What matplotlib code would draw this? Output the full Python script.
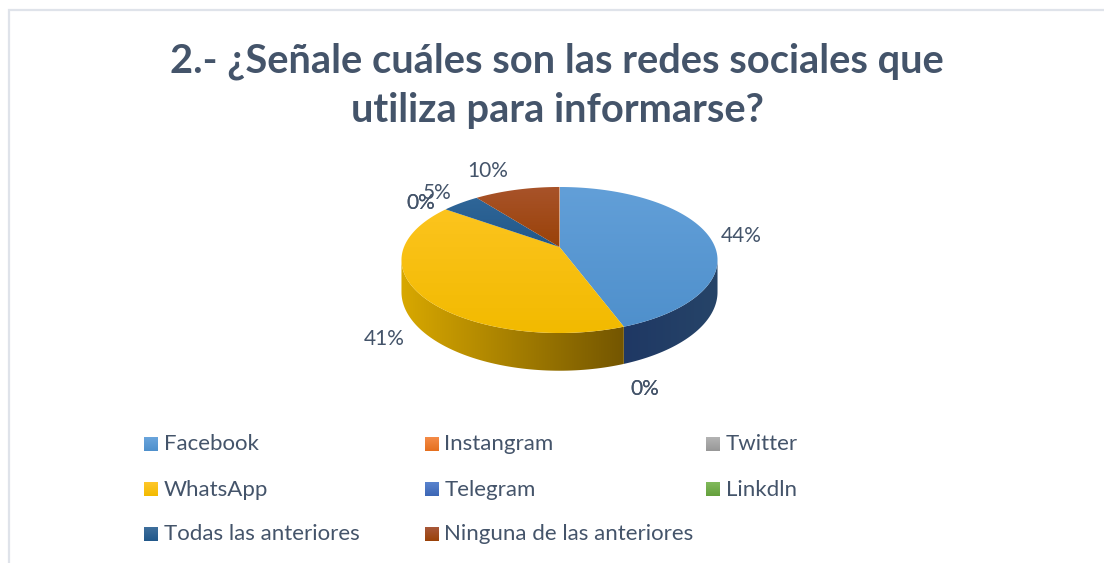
import numpy as np
import matplotlib
matplotlib.use('Agg')
import matplotlib.pyplot as plt
from matplotlib.colors import LinearSegmentedColormap
from matplotlib.patches import Polygon

# datos
title = '2.- ¿Señale cuáles son las redes sociales que\nutiliza para informarse?'
redes = ['Facebook', 'Instangram', 'Twitter', 'WhatsApp', 'Telegram', 'Linkdln',
         'Todas las anteriores', 'Ninguna de las anteriores']
porcentajes = [44.4, 0, 0, 40.6, 0, 0, 4.6, 10.4]

claros = ['#629FD8', '#F48C48', '#B4B4B4', '#FCC41E', '#5A84CE', '#82BA5C', '#2F6698', '#A8532A']
oscuros = ['#4F90CC', '#E56F1E', '#979797', '#F2BA00', '#3C66B5', '#64A03C', '#22588A', '#9A4208']
pared_izq = ['#1F3864', '#8A4516', '#5E5E5E', '#D8A800', '#27406E', '#406228', '#163556', '#5A2908']
pared_der = ['#264468', '#8A4516', '#5E5E5E', '#745600', '#27406E', '#406228', '#163556', '#5A2908']
leyenda_claros = ['#6AA5DC', '#F48C48', '#B4B4B4', '#FFC72A', '#5A84CE', '#82BA5C', '#3E6F9C', '#A8583A']

# posicion de cada etiqueta de porcentaje, en pixeles
pos_etiquetas = [(741, 236), (645, 389), (645, 389), (384, 339),
                 (421, 203), (421, 203), (437, 193), (488, 171)]

gris = '#44546A'
fig = plt.figure(figsize=(11.04, 5.63), dpi=100, facecolor='white')
ax = fig.add_axes([0, 0, 1, 1])
ax.set_axis_off()


def proyectar(theta, prof=0.0):
    # circulo visto en perspectiva, theta en grados desde arriba en sentido horario
    t = np.radians(theta)
    den = 1 + 0.178 * np.cos(t)
    x = 559.5 + 155.5 * np.sin(t) / den
    y = 247 - 70.7 * np.cos(t) / den + prof / den
    return x, y


def degradado(puntos, c1, c2, horizontal, z):
    # rellena un poligono con un degradado recortado a su forma
    puntos = np.array(puntos)
    l, r = puntos[:, 0].min(), puntos[:, 0].max()
    t, b = puntos[:, 1].min(), puntos[:, 1].max()
    cmap = LinearSegmentedColormap.from_list('g', [c1, c2])
    grad = np.linspace(0, 1, 128)
    grad = grad.reshape(1, -1) if horizontal else grad.reshape(-1, 1)
    im = ax.imshow(grad, extent=(l, r, b, t), cmap=cmap, aspect='auto', zorder=z,
                   interpolation='bilinear')
    im.set_clip_path(Polygon(puntos, closed=True, transform=ax.transData))


# paredes y cara superior
inicio = 0.0
for i in range(len(redes)):
    fin = inicio + porcentajes[i] * 3.6
    if porcentajes[i] > 0:
        ang = np.linspace(inicio, fin, 120)
        x, y = proyectar(ang)
        degradado(np.column_stack([np.r_[559.5, x], np.r_[247, y]]), claros[i], oscuros[i], False, 3)
        a = max(inicio, 100.2)
        b = min(fin, 259.8)
        if b > a:
            ang = np.linspace(a, b, 80)
            x1, y1 = proyectar(ang)
            x2, y2 = proyectar(ang, 31)
            degradado(np.column_stack([np.r_[x1, x2[::-1]], np.r_[y1, y2[::-1]]]),
                      pared_izq[i], pared_der[i], True, 2)
    inicio = fin

for i in range(len(redes)):
    etiqueta = '{0:.0f}%'.format(porcentajes[i])
    ax.text(pos_etiquetas[i][0], pos_etiquetas[i][1], etiqueta, color=gris, fontsize=15,
            family='Lato', ha='center', va='center', zorder=5)

# leyenda, tres columnas
col_x = [144, 425, 706]
fila_y = [437, 482, 527]
for i in range(len(redes)):
    x0 = col_x[i % 3]
    y0 = fila_y[i // 3]
    degradado([(x0, y0), (x0 + 14, y0), (x0 + 14, y0 + 14), (x0, y0 + 14)],
              leyenda_claros[i], oscuros[i], False, 3)
    ax.text(x0 + 19.5, y0 + 7.5, redes[i], color=gris, fontsize=16, family='Lato',
            ha='left', va='center', zorder=5)

ax.text(557, 86, title, color=gris, fontsize=28.7, fontweight='bold', family='Lato',
        ha='center', va='center', linespacing=1.4)

# borde del grafico
ax.plot([9, 9, 1104], [563, 10, 10], color='#DFE3EA', lw=1.6, solid_joinstyle='miter', zorder=1)

ax.set_xlim(0, 1104)
ax.set_ylim(563, 0)
fig.savefig('out.png', dpi=100)
